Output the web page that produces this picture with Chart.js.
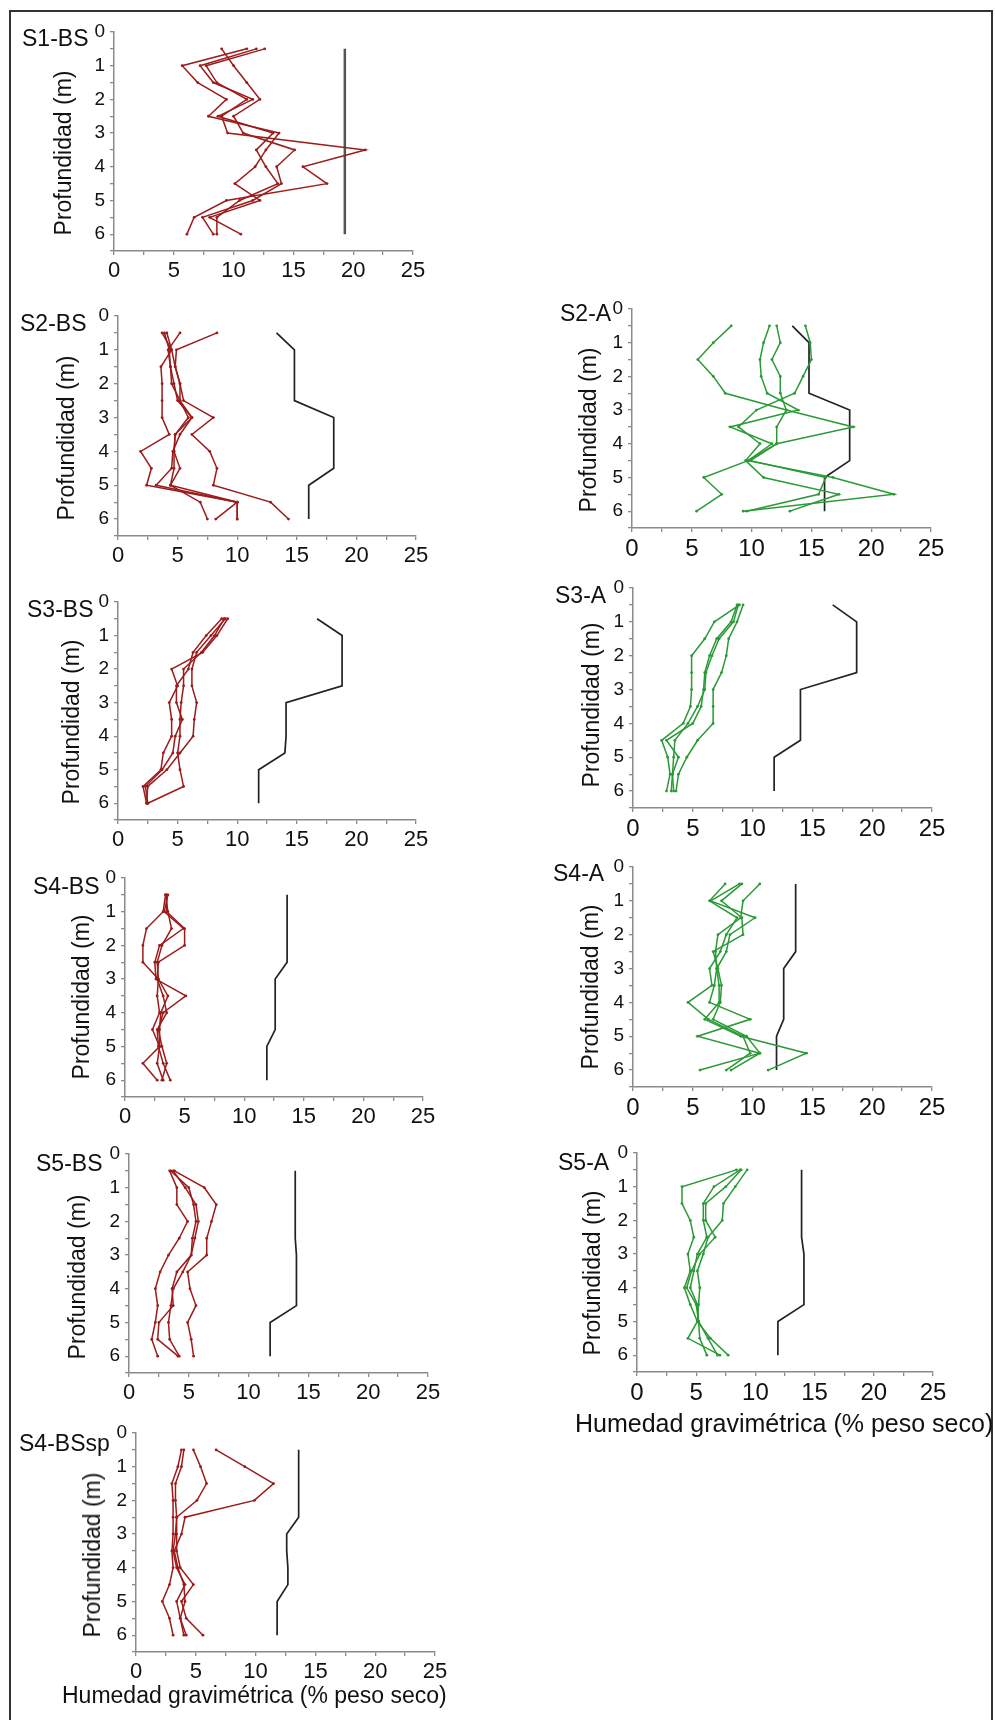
<!DOCTYPE html>
<html>
<head>
<meta charset="utf-8">
<script src="https://cdn.jsdelivr.net/npm/chart.js@4.4.1/dist/chart.umd.min.js"></script>
<style>
  body { margin: 0; background: #fff; width: 995px; height: 1720px; position: relative; overflow: hidden; font-family: "Liberation Sans", Arial, sans-serif; color: #111; }
  #frame { position: absolute; left: 9px; top: 10px; width: 980px; height: 1730px; border: 2px solid #333; }
  canvas { position: absolute; }
  .lbl { position: absolute; font-size: 23px; line-height: 26px; white-space: nowrap; }
  .ytitle { position: absolute; font-size: 23px; line-height: 26px; white-space: nowrap; transform: translate(-50%, -50%) rotate(-90deg); }
  .xtitle { position: absolute; font-size: 23px; line-height: 26px; white-space: nowrap; }
</style>
</head>
<body>
<div id="frame"></div>
<script>
// profundidades de muestreo (m)
const depths = [0.5, 1, 1.5, 2, 2.5, 3, 3.5, 4, 4.5, 5, 5.5, 6];

// S1-BS
const s1bsProfiles = [
  [12.6, 7.7, 8.6, 11.1, 9.0, 9.5, 21.0, 15.8, 17.8, 9.4, 6.7, 6.1],
  [11.1, 5.7, 7.0, 9.4, 7.9, 13.8, 12.7, 11.8, 10.1, 12.2, 8.0, 10.6],
  [9.0, 10.0, 11.1, 12.2, 10.0, 10.8, 15.1, 13.6, 14.0, 11.6, 7.4, 8.3],
  [11.9, 7.2, 8.3, 11.6, 8.7, 13.3, 11.9, 12.7, 13.7, 10.5, 8.6, 8.6]
];
const s1bsRef = [19.3, 19.3, 19.3, 19.3, 19.3, 19.3, 19.3, 19.3, 19.3, 19.3, 19.3, 19.3];

// S2-BS
const s2bsProfiles = [
  [8.3, 4.9, 4.8, 5.2, 5.2, 6.2, 4.8, 4.7, 4.7, 4.4, 10.0, 10.0],
  [3.7, 4.5, 3.6, 3.7, 3.7, 3.7, 4.3, 1.9, 2.8, 2.4, 10.0, 10.0],
  [5.2, 4.2, 4.4, 4.5, 5.2, 5.9, 4.8, 4.7, 5.2, 4.4, 6.9, 7.5],
  [4.1, 4.5, 4.8, 5.2, 5.5, 8.0, 6.2, 7.7, 8.3, 8.0, 12.8, 14.3],
  [3.9, 4.3, 4.4, 4.7, 5.0, 6.2, 5.2, 4.6, 4.5, 3.2, 10.0, 8.2]
];
const s2bsRef = [13.3, 14.8, 14.8, 14.8, 14.8, 18.1, 18.1, 18.1, 18.1, 16.0, 16.0, 16.0];

// S2-A
const s2aProfiles = [
  [8.3, 6.8, 5.5, 6.8, 7.8, 12.9, 18.5, 12.1, 9.7, 6.0, 7.5, 5.4],
  [11.5, 11.0, 10.7, 10.8, 11.3, 13.9, 8.2, 11.7, 9.7, 16.8, 21.9, 9.3],
  [12.1, 12.4, 11.7, 12.4, 12.4, 12.9, 12.1, 12.1, 9.9, 16.2, 15.6, 9.6],
  [14.5, 14.9, 15.0, 14.3, 13.6, 10.4, 8.9, 10.7, 9.5, 11.0, 17.3, 13.2]
];
const s2aRef = [13.4, 14.8, 14.8, 14.8, 14.8, 18.2, 18.2, 18.2, 18.2, 16.1, 16.1, 16.1];

// S3-BS
const s3bsProfiles = [
  [9.2, 8.3, 7.1, 4.5, 5.0, 4.3, 4.5, 4.5, 3.8, 3.6, 2.1, 2.4],
  [8.9, 8.1, 7.0, 5.5, 5.5, 5.3, 5.2, 5.2, 5.0, 5.2, 5.5, 2.5],
  [9.0, 7.8, 6.6, 6.2, 6.2, 6.6, 6.4, 6.3, 5.2, 4.1, 2.5, 2.4],
  [8.7, 7.4, 6.3, 5.9, 4.9, 4.9, 5.4, 4.8, 4.6, 3.7, 2.3, 2.5]
];
const s3bsRef = [16.7, 18.8, 18.8, 18.8, 18.8, 14.1, 14.1, 14.1, 14.0, 11.8, 11.8, 11.8];

// S3-A
const s3aProfiles = [
  [8.9, 6.8, 6.0, 4.9, 4.9, 4.9, 4.8, 4.2, 2.4, 2.9, 3.1, 2.8],
  [8.7, 8.2, 7.0, 6.4, 6.0, 5.9, 5.7, 5.0, 2.8, 3.8, 3.3, 3.2],
  [9.2, 8.7, 8.0, 7.8, 7.4, 6.7, 6.7, 6.7, 5.4, 4.5, 3.8, 3.6],
  [8.8, 8.4, 7.2, 6.6, 6.1, 6.0, 5.4, 4.6, 3.5, 3.4, 3.3, 3.4]
];
const s3aRef = [16.7, 18.7, 18.7, 18.7, 18.7, 14.0, 14.0, 14.0, 14.0, 11.8, 11.8, 11.8];

// S4-BS
const s4bsProfiles = [
  [3.4, 3.2, 1.8, 1.5, 1.5, 2.8, 2.7, 2.9, 2.3, 2.9, 1.5, 2.7],
  [3.5, 3.5, 5.0, 5.0, 2.8, 2.7, 3.2, 3.5, 2.7, 2.8, 3.2, 3.8],
  [3.6, 3.3, 4.9, 2.9, 2.5, 2.6, 5.1, 3.2, 2.8, 3.1, 3.5, 3.1],
  [3.4, 3.6, 3.9, 3.1, 2.7, 2.8, 3.6, 3.0, 2.9, 2.9, 2.7, 3.2]
];
const s4bsRef = [13.6, 13.6, 13.6, 13.6, 13.6, 12.6, 12.6, 12.6, 12.6, 11.9, 11.9, 11.9];

// S4-A
const s4aProfiles = [
  [7.7, 6.4, 8.7, 7.8, 7.3, 6.4, 6.6, 4.6, 6.3, 9.2, 9.8, 7.8],
  [8.9, 6.5, 10.2, 8.1, 7.8, 7.0, 6.8, 6.4, 9.8, 5.4, 10.6, 8.2],
  [9.1, 7.4, 9.1, 9.2, 6.7, 7.1, 7.4, 7.3, 6.7, 9.5, 10.6, 5.6],
  [10.6, 9.2, 9.0, 7.1, 6.9, 7.0, 7.2, 7.2, 6.0, 9.0, 14.5, 11.3]
];
const s4aRef = [13.6, 13.6, 13.6, 13.6, 13.6, 12.6, 12.6, 12.6, 12.6, 12.0, 12.0, 12.0];

// S5-BS
const s5bsProfiles = [
  [3.4, 4.0, 4.0, 4.9, 4.2, 3.3, 2.6, 2.2, 2.4, 2.2, 1.9, 2.4],
  [3.7, 4.7, 5.6, 5.8, 5.5, 5.2, 4.5, 3.7, 3.5, 3.3, 3.4, 4.2],
  [3.8, 6.3, 7.3, 6.9, 6.5, 6.5, 4.9, 5.1, 5.6, 4.9, 5.2, 5.4],
  [3.5, 5.0, 5.4, 5.6, 5.3, 5.2, 4.0, 3.6, 3.7, 2.5, 2.4, 4.1]
];
const s5bsRef = [13.9, 13.9, 13.9, 13.9, 13.9, 14.0, 14.0, 14.0, 14.0, 11.8, 11.8, 11.8];

// S5-A
const s5aProfiles = [
  [8.4, 3.8, 3.8, 4.5, 4.8, 4.3, 4.5, 4.0, 4.5, 5.1, 4.3, 7.0],
  [8.7, 6.5, 5.6, 5.6, 5.9, 5.1, 4.8, 4.5, 5.1, 5.2, 5.3, 5.9],
  [9.3, 8.3, 7.3, 7.2, 6.0, 5.6, 5.1, 5.3, 5.2, 5.1, 6.2, 7.7],
  [8.8, 7.5, 5.8, 5.8, 6.6, 5.3, 4.6, 4.2, 5.0, 5.2, 6.0, 6.8]
];
const s5aRef = [13.9, 13.9, 13.9, 13.9, 13.9, 14.1, 14.1, 14.1, 14.1, 11.9, 11.9, 11.9];

// S4-BSsp
const s4bsspProfiles = [
  [3.8, 3.5, 3.0, 3.1, 3.1, 3.1, 3.0, 3.1, 2.8, 2.2, 2.8, 3.1],
  [4.0, 3.8, 3.3, 3.3, 3.4, 3.3, 3.1, 3.4, 4.1, 3.4, 3.7, 4.0],
  [4.8, 5.4, 5.9, 5.1, 3.4, 3.4, 3.4, 3.7, 4.8, 3.8, 4.2, 5.6],
  [6.7, 9.1, 11.5, 9.9, 4.1, 3.8, 3.2, 3.5, 4.0, 4.1, 3.7, 4.2]
];
const s4bsspRef = [13.6, 13.6, 13.6, 13.6, 13.6, 12.6, 12.6, 12.7, 12.7, 11.8, 11.8, 11.8];

const xTicks = [0, 5, 10, 15, 20, 25];
const yTicks = [0, 1, 2, 3, 4, 5, 6];

const RED = '#9c1b1b';
const GREEN = '#2a9a36';
const AXIS = '#8a8a8a';
const FONT = '"Liberation Sans", Arial, sans-serif';

// colocación de cada panel (área del gráfico en px de la página)
const panels = [
  { name: 'S1-BS', profiles: s1bsProfiles, ref: s1bsRef, color: RED, refColor: '#555', refWidth: 2.5,
    L: 114, T: 32, R: 413, B: 251, lbl: [22, 38], yt: [63, 153], xf: 22 },
  { name: 'S2-BS', profiles: s2bsProfiles, ref: s2bsRef, color: RED,
    L: 118, T: 316, R: 416, B: 536, lbl: [20, 323], yt: [66, 438], xf: 22 },
  { name: 'S2-A', profiles: s2aProfiles, ref: s2aRef, color: GREEN,
    L: 632, T: 309, R: 931, B: 528, lbl: [560, 313], yt: [588, 430], xf: 24 },
  { name: 'S3-BS', profiles: s3bsProfiles, ref: s3bsRef, color: RED,
    L: 118, T: 602, R: 416, B: 820, lbl: [27, 609], yt: [71, 722], xf: 22 },
  { name: 'S3-A', profiles: s3aProfiles, ref: s3aRef, color: GREEN,
    L: 633, T: 588, R: 932, B: 808, lbl: [555, 595], yt: [591, 705], xf: 24 },
  { name: 'S4-BS', profiles: s4bsProfiles, ref: s4bsRef, color: RED,
    L: 125, T: 878, R: 423, B: 1097, lbl: [33, 886], yt: [81, 997], xf: 22 },
  { name: 'S4-A', profiles: s4aProfiles, ref: s4aRef, color: GREEN,
    L: 633, T: 867, R: 932, B: 1087, lbl: [553, 873], yt: [590, 987], xf: 24 },
  { name: 'S5-BS', profiles: s5bsProfiles, ref: s5bsRef, color: RED,
    L: 129, T: 1154, R: 428, B: 1373, lbl: [36, 1163], yt: [77, 1277], xf: 22 },
  { name: 'S5-A', profiles: s5aProfiles, ref: s5aRef, color: GREEN,
    L: 637, T: 1153, R: 933, B: 1372, lbl: [558, 1162], yt: [592, 1273], xf: 24 },
  { name: 'S4-BSsp', profiles: s4bsspProfiles, ref: s4bsspRef, color: RED,
    L: 136, T: 1433, R: 435, B: 1652, lbl: [19, 1443], yt: [92, 1555], xf: 22 }
];

const PAD_L = 60, PAD_T = 20, PAD_R = 24, PAD_B = 44;

function addText(cls, text, x, y) {
  const d = document.createElement('div');
  d.className = cls;
  d.textContent = text;
  d.style.left = x + 'px';
  d.style.top = y + 'px';
  document.body.appendChild(d);
  return d;
}

function toPoints(vals) {
  return depths.map((d, i) => ({ x: vals[i], y: d }));
}

function makePanel(p) {
  const cv = document.createElement('canvas');
  const w = PAD_L + (p.R - p.L) + PAD_R;
  const h = PAD_T + (p.B - p.T) + PAD_B;
  cv.width = w; cv.height = h;
  cv.style.width = w + 'px'; cv.style.height = h + 'px';
  cv.style.left = (p.L - PAD_L) + 'px';
  cv.style.top = (p.T - PAD_T) + 'px';
  document.body.appendChild(cv);

  const datasets = p.profiles.map(vals => ({
    data: toPoints(vals), showLine: true, borderColor: p.color, backgroundColor: p.color,
    borderWidth: 1.5, pointRadius: 1.4, pointBorderWidth: 0
  }));
  datasets.push({
    data: toPoints(p.ref), showLine: true, borderColor: p.refColor || '#222',
    borderWidth: p.refWidth || 1.7, pointRadius: 0
  });

  new Chart(cv.getContext('2d'), {
    type: 'scatter',
    data: { datasets },
    options: {
      responsive: false,
      animation: false,
      devicePixelRatio: 1,
      layout: { padding: { left: 0, top: PAD_T, right: PAD_R, bottom: 0 } },
      plugins: { legend: { display: false }, tooltip: { enabled: false } },
      scales: {
        x: {
          type: 'linear', min: 0, max: 25,
          ticks: {
            stepSize: 2.5, autoSkip: false, maxRotation: 0, padding: 3, color: '#111',
            font: { family: FONT, size: p.xf },
            callback: v => xTicks.includes(v) ? String(v) : ''
          },
          grid: { drawOnChartArea: false, color: AXIS, tickLength: 4, lineWidth: 1.3 },
          border: { color: AXIS, width: 1.5 },
          afterFit: s => { s.height = PAD_B; }
        },
        y: {
          type: 'linear', min: 0, max: 6.5, reverse: true,
          ticks: {
            stepSize: 0.5, autoSkip: false, padding: 5, color: '#111',
            font: { family: FONT, size: 19 },
            callback: v => yTicks.includes(v) ? String(v) : ''
          },
          grid: { drawOnChartArea: false, color: AXIS, tickLength: 4, lineWidth: 1.3 },
          border: { color: AXIS, width: 1.5 },
          afterFit: s => { s.width = PAD_L; }
        }
      }
    }
  });

  addText('lbl', p.name, p.lbl[0], p.lbl[1] - 13);
  addText('ytitle', 'Profundidad (m)', p.yt[0], p.yt[1]);
}

panels.forEach(makePanel);

addText('xtitle', 'Humedad gravimétrica (% peso seco)', 575, 1410).style.fontSize = '25px';
addText('xtitle', 'Humedad gravimétrica (% peso seco)', 62, 1682);
</script>
</body>
</html>
